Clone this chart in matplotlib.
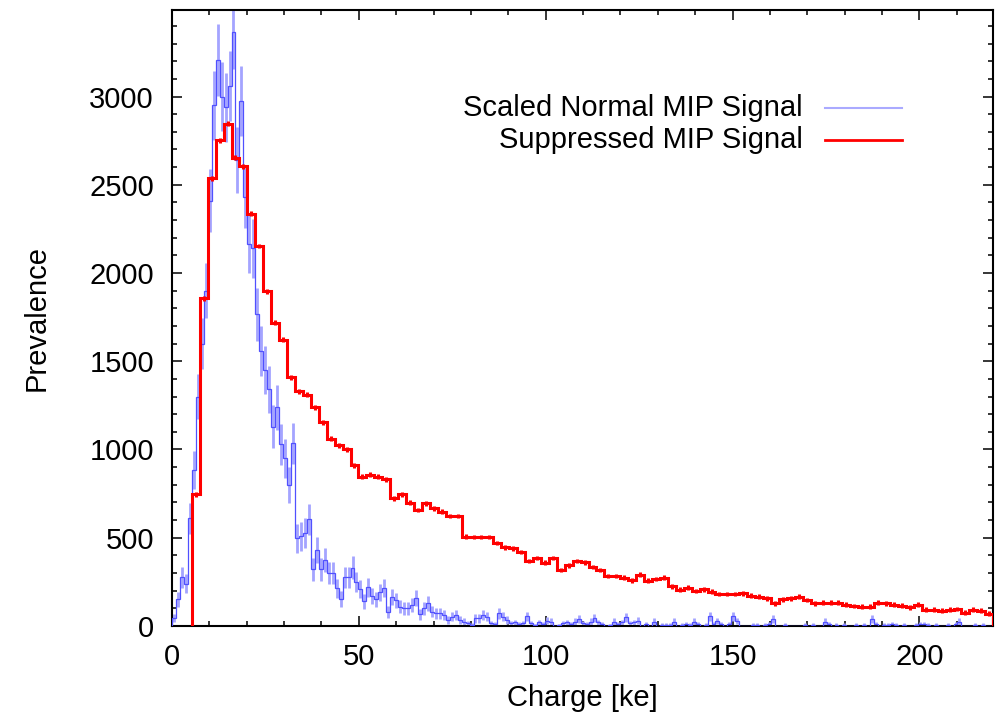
import numpy as np
import matplotlib
matplotlib.use("Agg")
import matplotlib.pyplot as plt
from matplotlib.ticker import MultipleLocator

plt.rcParams['font.family'] = ['Liberation Sans', 'DejaVu Sans']

# bin layout (ke)
blue_width = 1.0616
red_start = 5.308
red_width = 2.1232

# Scaled Normal MIP Signal, 1 bin = blue_width
blue = [
    45, 150, 275, 240, 610, 885, 1300, 1600, 1900, 2410,
    2950, 3205, 3000, 2940, 3060, 3365, 2640, 2975, 2430, 2165,
    2140, 1765, 1560, 1450, 1340, 1130, 1240, 1030, 950, 800,
    1035, 496, 508, 527, 604, 321, 430, 321, 374, 302,
    302, 213, 151, 275, 275, 330, 250, 210, 140, 220,
    170, 150, 190, 215, 80, 165, 145, 110, 100, 100,
    119, 156, 65, 100, 128, 81, 72, 72, 62, 34,
    53, 62, 34, 25, 15, 6, 43, 43, 62, 53,
    15, 11, 72, 53, 34, 15, 20, 10, 15, 55,
    15, 5, 20, 10, 30, 25, 0, 5, 15, 20,
    10, 25, 40, 15, 10, 25, 45, 20, 10, 0,
    5, 25, 10, 20, 50, 15, 20, 30, 0, 10,
    0, 25, 0, 8, 8, 8, 25, 0, 8, 10,
    8, 25, 10, 0, 8, 55, 10, 28, 10, 0,
    10, 55, 28, 0, 0, 0, 8, 8, 0, 8,
    10, 38, 0, 0, 8, 0, 0, 0, 0, 8,
    0, 8, 0, 0, 25, 10, 0, 8, 0, 8,
    0, 0, 8, 0, 8, 0, 38, 10, 0, 8,
    8, 10, 8, 0, 8, 0, 0, 8, 10, 10,
    8, 0, 8, 0, 0, 8, 0, 10, 25, 0,
    0, 0, 8, 0, 8, 0, 0,
]

# Suppressed MIP Signal, 1 bin = red_width
red = [
    745, 1857, 2536, 2751, 2847, 2652, 2605, 2336, 2153, 1896,
    1717, 1623, 1410, 1330, 1310, 1240, 1153, 1062, 1024, 1000,
    911, 845, 858, 845, 830, 723, 747, 698, 657, 694,
    666, 647, 623, 623, 505, 504, 504, 504, 470, 447,
    441, 419, 368, 385, 357, 385, 317, 345, 368, 362,
    334, 317, 283, 283, 272, 260, 289, 255, 266, 274,
    226, 204, 217, 198, 208, 194, 181, 181, 181, 185,
    172, 166, 157, 128, 151, 157, 166, 147, 128, 132,
    132, 132, 119, 113, 109, 109, 132, 128, 119, 115,
    106, 119, 91, 91, 87, 91, 96, 75, 91, 87,
    70,
]

# error bars: blue = sqrt(weight * value), red roughly constant
blue_weight = 13.0
red_err = 14.0

blue = np.array(blue, dtype=float)
red = np.array(red, dtype=float)
blue_edges = blue_width * np.arange(len(blue) + 1)
red_edges = red_start + red_width * np.arange(len(red) + 1)
blue_err = np.sqrt(blue_weight * blue)

fig = plt.figure(figsize=(10, 7.17), dpi=100)
ax = fig.add_axes([0.172, 0.127, 0.821, 0.859])

ax.errorbar(0.5 * (blue_edges[1:] + blue_edges[:-1]), blue, yerr=blue_err,
            fmt='none', ecolor='#a4a4ff', elinewidth=2.0, capsize=0, zorder=2)
ax.stairs(blue, blue_edges, baseline=0, color='#5050ff', lw=0.9, zorder=3)

ax.errorbar(0.5 * (red_edges[1:] + red_edges[:-1]), red, yerr=red_err,
            fmt='none', ecolor='#ff0000', elinewidth=2.2, capsize=0, zorder=4)
ax.stairs(red, red_edges, baseline=0, color='#ff0000', lw=2.2, zorder=5)

ax.set_xlim(0, 219.7)
ax.set_ylim(0, 3490)
ax.xaxis.set_major_locator(MultipleLocator(50))
ax.xaxis.set_minor_locator(MultipleLocator(10))
ax.yaxis.set_major_locator(MultipleLocator(500))
ax.yaxis.set_minor_locator(MultipleLocator(100))
ax.tick_params(which='both', direction='in', top=True, right=True,
               width=1.1, labelsize=21)
ax.tick_params(which='major', length=7)
ax.tick_params(which='minor', length=3.6)
ax.tick_params(axis='x', pad=12)
ax.tick_params(axis='y', pad=13)
for s in ax.spines.values():
    s.set_linewidth(1.5)

ax.set_xlabel("Charge [ke]", fontsize=21)
ax.set_ylabel("Prevalence", fontsize=21)
ax.xaxis.set_label_coords(0.5, -0.095)
ax.yaxis.set_label_coords(-0.148, 0.5)

# gnuplot-style key: text right aligned, sample on the right
key = [("Scaled Normal MIP Signal", '#aaaaff', 1.5, 0.841),
       ("Suppressed MIP Signal", '#ff0000', 2.0, 0.789)]
for label, col, lw, yk in key:
    ax.text(0.7686, yk, label, transform=ax.transAxes, ha='right',
            va='center', fontsize=21)
    ax.plot([0.795, 0.889], [yk, yk], transform=ax.transAxes,
            color=col, lw=lw)

fig.savefig("out.png", dpi=100)
